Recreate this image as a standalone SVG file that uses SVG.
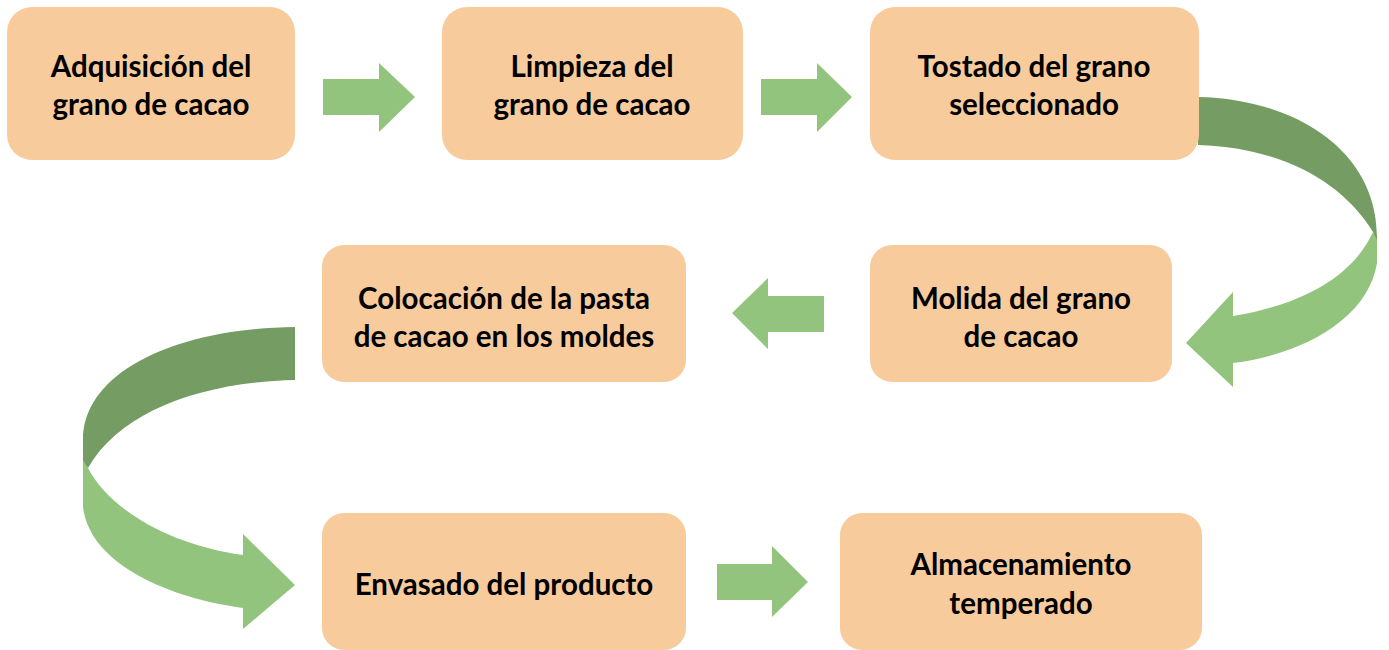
<svg xmlns="http://www.w3.org/2000/svg" width="1389" height="650" viewBox="0 0 1389 650">
<style>
.box{fill:#F8CB9D}
.t{font-family:Lato,"Liberation Sans",sans-serif;font-weight:bold;font-size:29.5px;fill:#000;text-anchor:middle;dominant-baseline:central}
.a{fill:#93C47D}
.d{fill:#759D63}
</style>
<rect width="1389" height="650" fill="#fff"/>
<g id="connectors">
<path class="a" d="M323,79 H379 V63 L415,97 L379,132 V115 H323 Z"/>
<path class="a" d="M761,79 H817 V63 L852,97 L817,132 V115 H761 Z"/>
<path class="a" d="M824,296 H768 V278 L732,313 L768,349 V332 H824 Z"/>
<path class="a" d="M717,564 H772 V546 L808,582 L772,617 V600 H717 Z"/>
<path class="d" d="M1198,97 C1295,99 1377,150 1377,237 L1377,245 L1373,232 C1340,178 1275,147 1198,145 Z"/>
<path class="a" d="M1373,232 L1377,240 L1377,263 C1368,320 1300,355 1233,363 L1233,387 L1186,343 L1233,292 L1233,316 C1300,305 1352,278 1373,232 Z"/>
<path class="d" d="M295,327 C180,328 83,370 83,440 L83,463 L88,468 C120,412 200,382 295,380 Z"/>
<path class="a" d="M88,468 L83,460 L83,507 C90,565 170,598 243,608 L243,629 L295,585 L243,534 L243,555 C170,545 110,510 88,468 Z"/>
</g>
<g id="n1"><rect class="box" x="7" y="7" width="288" height="153" rx="25"/><text class="t" x="151" y="65">Adquisición del</text><text class="t" x="151" y="103">grano de cacao</text></g>
<g id="n2"><rect class="box" x="442" y="7" width="301" height="153" rx="25"/><text class="t" x="592" y="65">Limpieza del</text><text class="t" x="592" y="103">grano de cacao</text></g>
<g id="n3"><rect class="box" x="870" y="7" width="329" height="153" rx="25"/><text class="t" x="1034" y="65">Tostado del grano</text><text class="t" x="1034" y="103">seleccionado</text></g>
<g id="n4"><rect class="box" x="870" y="245" width="302" height="137" rx="22"/><text class="t" x="1021" y="297">Molida del grano</text><text class="t" x="1021" y="335">de cacao</text></g>
<g id="n5"><rect class="box" x="322" y="245" width="364" height="137" rx="22"/><text class="t" x="504" y="297">Colocación de la pasta</text><text class="t" x="504" y="335">de cacao en los moldes</text></g>
<g id="n6"><rect class="box" x="322" y="513" width="364" height="137" rx="22"/><text class="t" x="504" y="583">Envasado del producto</text></g>
<g id="n7"><rect class="box" x="840" y="513" width="362" height="137" rx="22"/><text class="t" x="1021" y="563">Almacenamiento</text><text class="t" x="1021" y="602">temperado</text></g>
</svg>
